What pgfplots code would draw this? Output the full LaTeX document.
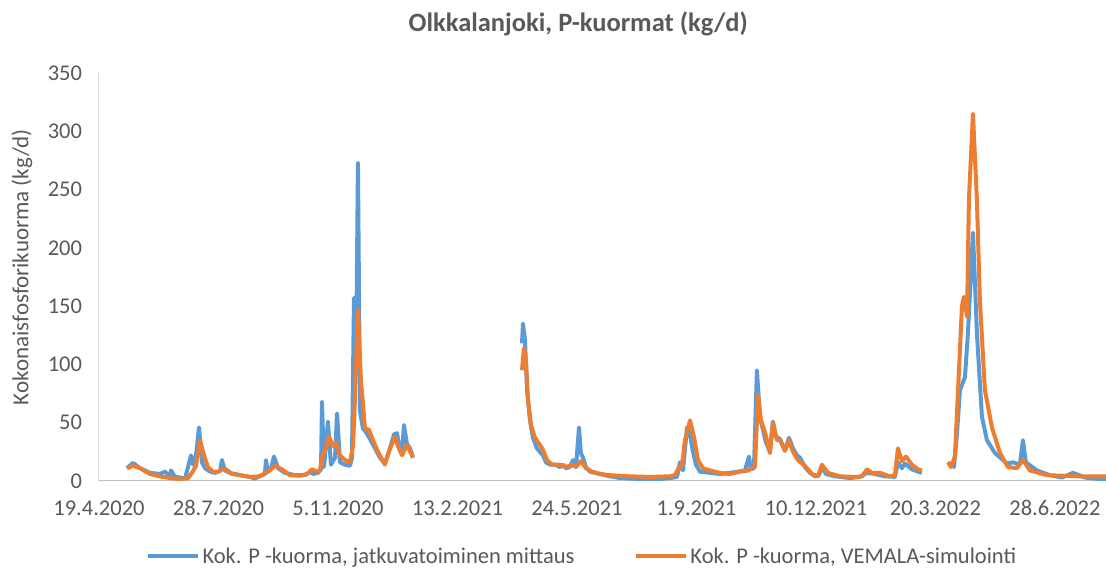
\documentclass[border=0pt]{standalone}
\usepackage{fontspec}
\setmainfont{Carlito}
\usepackage{pgfplots}
\usepackage{pgfplotstable}
\pgfplotsset{compat=1.18}
\definecolor{mittaus}{HTML}{5B9BD5}
\definecolor{vemala}{HTML}{ED7D31}
\definecolor{teksti}{HTML}{595959}

% day 0 = 19.4.2020, nan = gap in data
\pgfplotstableread{
day y
23.4 11
28.5 15.5
34.3 11
42.7 7
51.0 6
55.2 8
59.4 4
60.3 9
63.6 3.5
67.8 3
72.0 2
74.5 12
77.0 22
78.7 14
81.2 22
83.7 46
86.2 16
88.7 11
92.9 8
97.1 7
101.3 8.5
102.9 18
105.4 9
109.6 7
118.0 5
126.4 3.5
130.5 2
134.7 4.5
138.9 6
139.7 18
141.4 8
143.9 10
146.4 21
149.8 11
155.6 7
164.0 5
172.4 5
176.6 8
179.1 6
183.3 7
185.8 10
186.6 68
188.3 12
191.6 51
194.1 14
197.5 20
199.2 58
201.7 16
205.9 14
210.0 13
211.7 20
213.4 157
215.1 95
216.7 273
218.4 60
220.9 45
223.4 42
226.8 36
231.0 28
235.1 20
239.3 15
243.5 28
246.9 40
249.4 41
251.9 26
253.6 24
255.2 48
257.7 32
260.3 28
262.8 20
nan nan
354.0 118
354.8 135
356.5 121
358.2 78
360.7 52
363.2 37
366.5 28
369.0 25
371.5 22
374.1 16
377.4 14
381.6 14
385.8 12
388.3 14
390.8 11
394.1 12
396.7 18
399.2 12
401.7 46
403.3 24
405.0 20
407.5 12
410.9 8
419.2 6
427.6 4
436.0 2.5
452.7 1.7
469.5 1.7
477.8 2.5
483.7 3.5
486.2 16
488.7 9
492.1 46
494.6 40
497.1 25
499.6 14
502.9 8
511.3 7
519.7 6
528.0 7
534.7 8
540.6 9
543.9 21
545.6 10
548.1 11
550.6 95
553.1 55
555.6 44
558.2 33
561.5 25
564.0 51
566.5 38
569.9 36
574.1 26
577.4 37
580.8 28
584.1 22
586.6 20
590.8 12
595.0 7
599.2 4
602.5 5
605.0 12
608.4 6
615.9 4
628.5 2.5
636.8 3.5
642.7 7
649.4 6
657.7 4
666.1 3.5
668.6 16
672.0 11
674.5 15
680.3 10
685.4 8
688.7 7
nan nan
710.5 16
713.0 14
715.5 12
718.0 40
720.5 78
724.7 89
727.2 127
731.4 213
734.7 127
738.9 55
743.1 35
749.8 24
759.8 15
764.9 16
770.7 14
773.2 35
775.7 16
784.9 9
795.8 5
805.9 3
815.1 7
825.1 3
833.5 2
842.7 1.5
}\mittausdata

\pgfplotstableread{
day y
23.4 11
28.5 13
34.3 11
42.7 6
51.0 4
59.4 2.5
67.8 1.7
74.5 2.5
77.8 7
81.2 13
84.5 35
87.9 22
91.2 12
95.4 8
99.6 8
102.9 10
106.3 10
111.3 6
118.0 5
126.4 3.5
134.7 4
141.4 8
147.3 13
153.1 10
159.8 5
168.2 4.5
174.1 6
178.2 10
182.4 8
184.9 9
186.6 20
189.1 26
192.5 38
195.8 30
198.3 33
201.7 22
205.9 18
210.0 16
212.6 30
214.2 70
216.7 147
219.2 87
222.6 45
225.9 44
229.3 35
233.5 25
239.3 14
243.5 28
247.7 38
250.2 30
253.6 22
257.7 31
262.8 20
nan nan
354.0 95
355.6 114
357.3 104
359.0 70
361.5 48
364.9 37
369.0 31
371.5 27
374.9 18
379.1 14
385.8 14
390.8 12
395.8 14
399.2 12
403.3 17
407.5 11
412.6 8
419.2 6
427.6 5
444.4 4
461.1 3.5
477.8 4
482.0 5
484.5 10
487.9 14
490.4 35
494.6 52
497.9 38
501.3 18
505.4 11
511.3 9
519.7 7
528.0 6
536.4 8
543.1 9
546.4 11
549.0 12
551.5 74
554.0 52
557.3 42
559.8 31
561.5 24
564.0 50
567.4 35
569.9 35
574.1 26
577.4 35
580.8 25
584.9 18
590.8 13
596.7 6
601.7 4
605.0 14
610.0 7
620.1 4
632.6 3.5
638.5 4
642.7 10
646.9 7
653.6 7
661.9 4
666.1 5
668.6 28
672.0 17
675.3 21
680.3 14
685.4 10
688.7 9
nan nan
710.5 16
713.0 12
716.3 21
718.8 75
722.2 150
723.8 158
726.4 141
728.0 241
731.4 315
734.7 241
737.2 155
741.4 78
747.3 46
754.0 24
760.7 12
768.2 11
773.2 18
779.1 9
793.3 5
820.9 4
842.7 4
}\vemaladata

\begin{document}
\begin{tikzpicture}
\useasboundingbox (-99pt,-88pt) rectangle (1007pt,481pt);
\begin{axis}[
  at={(0pt,0pt)}, anchor=south west,
  scale only axis, width=1007pt, height=408pt,
  xmin=0, xmax=842.7, ymin=0, ymax=350,
  axis x line*=bottom, axis y line*=left,
  x axis line style={-, draw=black!25, line width=1pt},
  y axis line style={-, draw=black!15, line width=1pt},
  major tick length=0pt,
  xtick={0,100,...,800},
  xticklabels={19.4.2020,28.7.2020,5.11.2020,13.2.2021,24.5.2021,1.9.2021,10.12.2021,20.3.2022,28.6.2022},
  ytick={0,50,...,350},
  /pgf/number format/assume math mode=true,
  tick label style={font=\fontsize{22.5}{27}\selectfont, text=teksti},
  xticklabel style={yshift=-16pt},
  yticklabel style={xshift=-13.5pt},
  title={Olkkalanjoki, P-kuormat (kg/d)},
  title style={at={(axis description cs:0.476,1.105)}, anchor=center,
    font=\bfseries\fontsize{26.5}{31}\selectfont, text=teksti},
  ylabel={Kokonaisfosforikuorma (kg/d)},
  ylabel style={at={(axis description cs:-0.0765,0.5245)}, anchor=center,
    font=\fontsize{23}{28}\selectfont, text=teksti},
  unbounded coords=jump,
  legend columns=2,
  legend style={at={(axis description cs:0.480,-0.184)}, anchor=center,
    draw=none, font=\fontsize{22.5}{27}\selectfont, text=teksti,
    /tikz/every even column/.append style={column sep=57pt},
    nodes={inner sep=2.5pt}},
  legend image code/.code={\draw[#1] (0pt,0pt) -- (50pt,0pt);},
]
\addplot[mittaus, line width=4pt, line join=round] table[x=day, y=y] {\mittausdata};
\addlegendentry{Kok. P -kuorma, jatkuvatoiminen mittaus}
\addplot[vemala, line width=4pt, line join=round] table[x=day, y=y] {\vemaladata};
\addlegendentry{Kok. P -kuorma, VEMALA-simulointi}
\end{axis}
\end{tikzpicture}
\end{document}
